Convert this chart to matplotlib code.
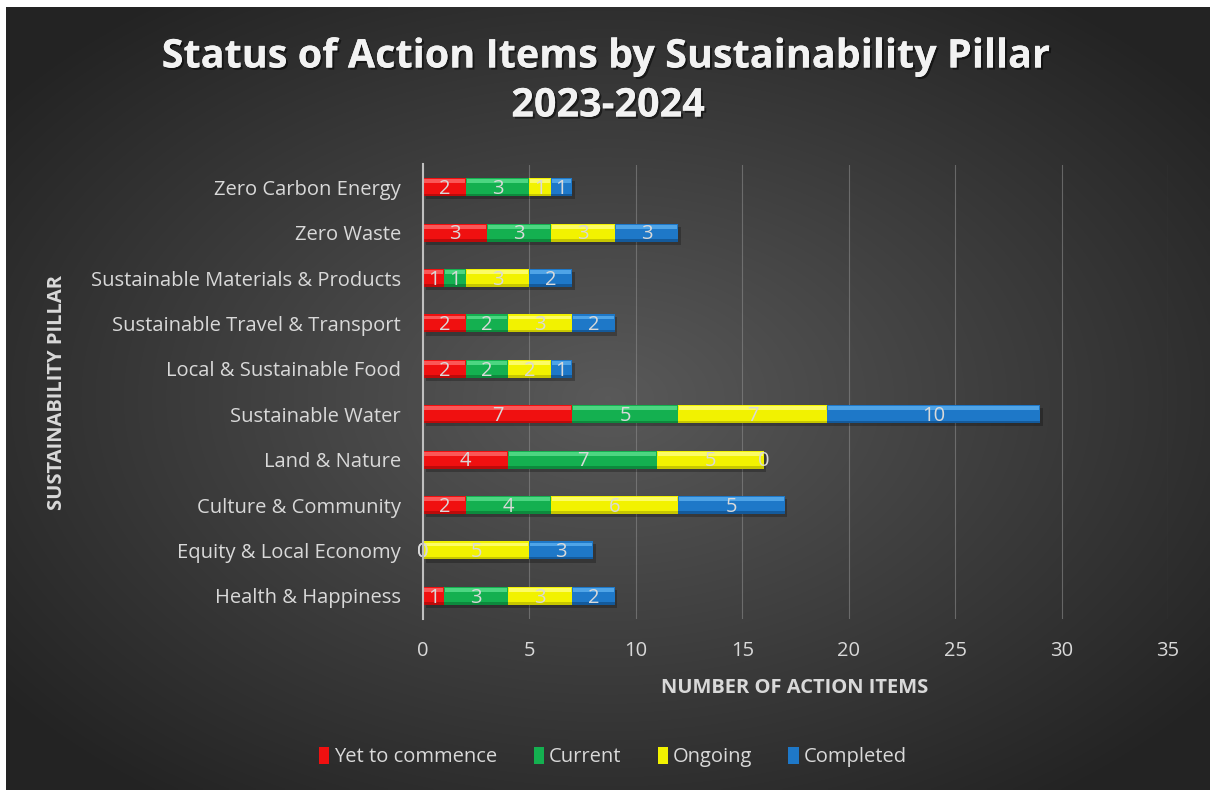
import numpy as np
import matplotlib
matplotlib.use("Agg")
import matplotlib.pyplot as plt
import matplotlib.patheffects as pe
from matplotlib.patches import Patch, Rectangle

# Data (top to bottom as shown)
pillars = [
    "Zero Carbon Energy",
    "Zero Waste",
    "Sustainable Materials & Products",
    "Sustainable Travel & Transport",
    "Local & Sustainable Food",
    "Sustainable Water",
    "Land & Nature",
    "Culture & Community",
    "Equity & Local Economy",
    "Health & Happiness",
]
yet_to_commence = [2, 3, 1, 2, 2, 7, 4, 2, 0, 1]
current = [3, 3, 1, 2, 2, 5, 7, 4, 0, 3]
ongoing = [1, 3, 3, 3, 2, 7, 5, 6, 5, 3]
completed = [1, 3, 2, 2, 1, 10, 0, 5, 3, 2]

series_names = ["Yet to commence", "Current", "Ongoing", "Completed"]
series_vals = [yet_to_commence, current, ongoing, completed]
colors = ["#F01010", "#14B050", "#F2F200", "#1E78C8"]
highlights = ["#FF6A6A", "#5BE08E", "#FFFF80", "#5CB0F0"]
darks = ["#A80808", "#0B7A36", "#B5B500", "#104E88"]

plt.rcParams["font.family"] = ["Open Sans", "DejaVu Sans"]
TXT = "#D9D9D9"

fig = plt.figure(figsize=(12.14, 7.92), dpi=100)
fig.patch.set_facecolor("white")

# background with radial gradient
bg = fig.add_axes([6 / 1214, 2 / 792, 1204 / 1214, 783 / 792])
yy, xx = np.mgrid[0:1:300j, 0:1:460j]
r = np.sqrt(((xx - 0.5) / 0.75) ** 2 + ((yy - 0.5) / 0.75) ** 2)
shade = np.clip(0.35 - 0.25 * r, 0.14, 0.35)
bg.imshow(np.dstack([shade] * 3), aspect="auto", extent=[0, 1, 0, 1], interpolation="bilinear")
bg.set_axis_off()

ax = fig.add_axes([423 / 1214, 1 - 618.5 / 792, (1168 - 423) / 1214, 454 / 792])
ax.set_facecolor("none")

n = len(pillars)
ypos = np.arange(n)[::-1]
h = 0.4
left = np.zeros(n)
for k, vals in enumerate(series_vals):
    vals = np.array(vals, dtype=float)
    for i in range(n):
        v = vals[i]
        y = ypos[i]
        if v > 0:
            # shadow
            ax.add_patch(Rectangle((left[i] + 0.12, y - h / 2 - 0.07), v, h,
                                   facecolor="black", alpha=0.25, lw=0, zorder=2))
            ax.barh(y, v, height=h, left=left[i], color=colors[k], zorder=3, lw=0)
            ax.barh(y + h / 2 - 0.07, v - 0.1, height=0.08, left=left[i] + 0.05,
                    color=highlights[k], zorder=4, lw=0, alpha=0.8)
            ax.barh(y - h / 2 + 0.03, v, height=0.06, left=left[i],
                    color=darks[k], zorder=4, lw=0, alpha=0.7)
        ax.text(left[i] + v / 2, y - 0.04, f"{int(v)}", ha="center", va="center",
                fontsize=14.5, color=TXT, zorder=5)
    left += vals

ax.set_xlim(0, 35)
ax.set_ylim(-0.5, n - 0.5)
ax.set_xticks(np.arange(0, 36, 5))
ax.set_yticks(ypos)
ax.set_yticklabels(pillars)
ax.tick_params(axis="x", length=0, pad=16, labelsize=14.5, labelcolor=TXT)
ax.tick_params(axis="y", length=0, pad=16, labelsize=14.5, labelcolor=TXT)
ax.grid(axis="x", color="#8A8A8A", lw=0.8, alpha=0.6, zorder=0)
for s in ["top", "right", "bottom"]:
    ax.spines[s].set_visible(False)
ax.spines["left"].set_color("#BFBFBF")
ax.spines["left"].set_linewidth(1.5)
ax.spines["left"].set_zorder(6)

shadow = [pe.withSimplePatchShadow(offset=(1.5, -1.5), shadow_rgbFace="black", alpha=0.5), pe.Normal()]
title_kw = dict(ha="center", va="center", fontsize=28.5, fontweight="bold", color="#F2F2F2",
                path_effects=shadow)
fig.text(606 / 1214, 1 - 57 / 792, "Status of Action Items by Sustainability Pillar", **title_kw)
fig.text(608 / 1214, 1 - 106 / 792, "2023-2024", **title_kw)
fig.text(795 / 1214, 1 - 688 / 792, "NUMBER OF ACTION ITEMS", ha="center", va="center",
         fontsize=14.5, fontweight="bold", color=TXT)
fig.text(57 / 1214, 1 - 392 / 792, "SUSTAINABILITY PILLAR", ha="center", va="center",
         rotation=90, fontsize=14.5, fontweight="bold", color=TXT)

handles = [Patch(facecolor=c, edgecolor="none") for c in colors]
leg = fig.legend(handles, series_names, loc="center", bbox_to_anchor=(0.505, 1 - 757 / 792),
                 ncol=4, frameon=False, fontsize=14.5, handlelength=0.5, handleheight=0.9,
                 handletextpad=0.25, columnspacing=1.8, labelcolor=TXT)

fig.savefig("out.png", dpi=100, facecolor=fig.get_facecolor())
